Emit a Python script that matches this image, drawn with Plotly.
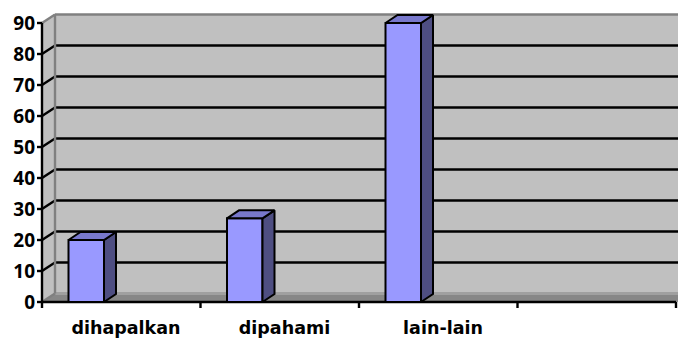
import plotly.graph_objects as go

# ---------------- data ----------------
categories = ["dihapalkan", "dipahami", "lain-lain", ""]
values = [20, 27, 90]
y_tick_values = [0, 10, 20, 30, 40, 50, 60, 70, 80, 90]
y_tick_labels = [str(v) for v in y_tick_values]

# ---------------- layout constants (pixels) ----------------
W, H = 678, 338
X0_PX, Y0_PX = 42, 302          # pixel of front axis origin
PX_PER_CAT = 158.5
PX_PER_UNIT = 3.1
L, R, T, B = 36, 0, 13, 28

xr = [(L - X0_PX) / PX_PER_CAT, (W - R - X0_PX) / PX_PER_CAT]
yr = [-(H - B - Y0_PX) / PX_PER_UNIT, (Y0_PX - T) / PX_PER_UNIT]

WDX, WDY = 13 / PX_PER_CAT, 8.5 / PX_PER_UNIT     # wall depth
BDX, BDY = 12 / PX_PER_CAT, 8 / PX_PER_UNIT       # bar depth
BAR_OFF, BAR_W = 26.5 / PX_PER_CAT, 35.5 / PX_PER_CAT
TICK_Y = 5 / PX_PER_CAT
TICK_X = 6 / PX_PER_UNIT

ymax = y_tick_values[-1]
ncat = len(categories)
xend = xr[1] + 0.2

XFONT = dict(family="DejaVu Sans", size=17.5, color="black", weight="bold")
YFONT = dict(family="Open Sans", size=19, color="black", weight="bold")
WALL = "#c0c0c0"
EDGE = "#808080"
FLOOR = "#878787"
FRONT = "#9999ff"
TOP = "#7878cc"
SIDE = "#4e4e82"

fig = go.Figure()


def poly(xs, ys, fill, line_color=None, lw=0, axes=("x", "y")):
    fig.add_trace(go.Scatter(
        x=xs, y=ys, mode="lines", fill="toself", fillcolor=fill,
        line=dict(color=line_color or fill, width=lw),
        xaxis=axes[0], yaxis=axes[1], hoverinfo="skip", showlegend=False))


def segs(pairs, color, lw, axes=("x", "y")):
    xs, ys = [], []
    for (xa, ya), (xb, yb) in pairs:
        xs += [xa, xb, None]
        ys += [ya, yb, None]
    fig.add_trace(go.Scatter(
        x=xs, y=ys, mode="lines", line=dict(color=color, width=lw),
        xaxis=axes[0], yaxis=axes[1], hoverinfo="skip", showlegend=False))


# floor, left wall, back wall
poly([0, xend, xend, WDX, 0], [0, 0, WDY, WDY, 0], FLOOR)
poly([0, WDX, WDX, 0, 0], [0, WDY, ymax + WDY, ymax, 0], WALL)
poly([WDX, xend, xend, WDX, WDX], [WDY, WDY, ymax + WDY, ymax + WDY, WDY], WALL)

# gridlines on back wall and diagonal lines on left wall
inner = y_tick_values[1:-1]
segs([((WDX, v + WDY), (xend, v + WDY)) for v in inner], "black", 2.4)
segs([((0, v), (WDX, v + WDY)) for v in inner], "black", 2.4)

# wall edges
segs([((WDX, WDY), (xend, WDY))], "#a0a0a0", 3)
segs([((WDX, ymax + WDY), (xend, ymax + WDY)),
      ((0, ymax), (WDX, ymax + WDY)),
      ((WDX, WDY), (WDX, ymax + WDY)),
      ((0, 0), (WDX, WDY))], EDGE, 2.4)

# front axes
segs([((0, 0), (0, ymax))] + [((-TICK_Y, v), (0, v)) for v in y_tick_values], "black", 2.4)
segs([((0, 0), (ncat, 0))] + [((i, 0), (i, -TICK_X)) for i in range(ncat + 1)], "black", 2.4)

# ---------------- bars (overlay subplot) ----------------
bx = [i + BAR_OFF + BAR_W / 2 for i in range(len(values))]
fig.add_trace(go.Bar(
    x=bx, y=values, width=BAR_W, xaxis="x2", yaxis="y2",
    marker=dict(color=FRONT, line=dict(color="black", width=2)),
    hoverinfo="skip", showlegend=False))

for i, v in enumerate(values):
    x0 = i + BAR_OFF
    x1 = x0 + BAR_W
    poly([x1, x1 + BDX, x1 + BDX, x1, x1], [0, BDY, v + BDY, v, 0], SIDE,
         "black", 2, axes=("x2", "y2"))
    poly([x0, x0 + BDX, x1 + BDX, x1, x0], [v, v + BDY, v + BDY, v, v], TOP,
         "black", 2, axes=("x2", "y2"))

fig.update_layout(
    width=W, height=H,
    margin=dict(l=L, r=R, t=T, b=B, pad=0, autoexpand=False),
    paper_bgcolor="white", plot_bgcolor="white",
    showlegend=False, hovermode=False,
    barmode="overlay",
    xaxis=dict(range=xr, tickmode="array",
               tickvals=[i + 0.53 for i in range(ncat)], ticktext=categories,
               ticks="", showgrid=False, zeroline=False, showline=False,
               tickfont=XFONT, ticklabelstandoff=5, automargin=False,
               fixedrange=True),
    yaxis=dict(range=yr, tickmode="array", tickvals=y_tick_values,
               ticktext=y_tick_labels, ticks="", showgrid=False,
               zeroline=False, showline=False, tickfont=YFONT,
               automargin=False, fixedrange=True),
    xaxis2=dict(range=xr, overlaying="x", anchor="y2", visible=False,
                fixedrange=True),
    yaxis2=dict(range=yr, overlaying="y", anchor="x2", visible=False,
                fixedrange=True),
)

fig.write_html("out.html", config={"displayModeBar": False})
